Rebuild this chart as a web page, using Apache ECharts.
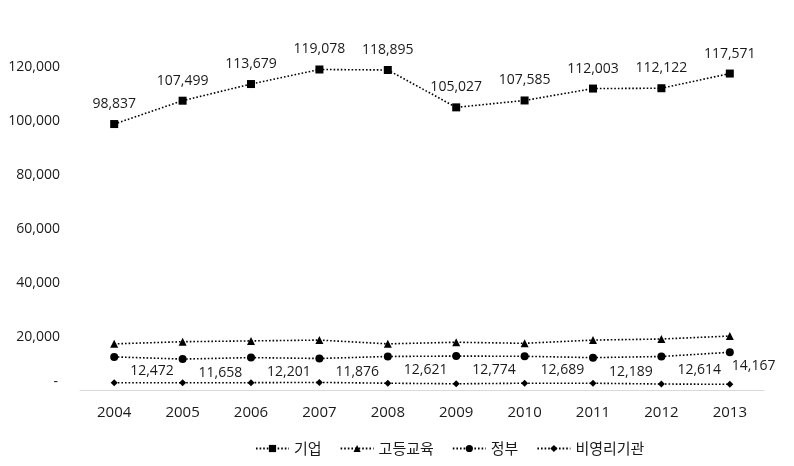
<!DOCTYPE html>
<html>
<head>
<meta charset="utf-8">
<script src="https://cdn.jsdelivr.net/npm/echarts@6/dist/echarts.min.js"></script>
<style>
html,body{margin:0;padding:0;background:#fff;}
#chart{width:794px;height:466px;}
</style>
</head>
<body>
<div id="chart"></div>
<script>
const years = ['2004','2005','2006','2007','2008','2009','2010','2011','2012','2013'];
const seriesNames = ['기업','고등교육','정부','비영리기관'];
const business = [98837,107499,113679,119078,118895,105027,107585,112003,112122,117571];
const higherEdu = [17300,18100,18400,18700,17300,17900,17500,18700,19100,20200];
const government = [12472,11658,12201,11876,12621,12774,12689,12189,12614,14167];
const nonProfit = [2900,2900,2900,3000,2700,2500,2700,2700,2400,2300];
const yTicks = [0,20000,40000,60000,80000,100000,120000];

const fmt = v => v.toLocaleString('en-US');
const baseFont = '"Open Sans", "Noto Sans", sans-serif';
const textColor = '#1a1a1a';
const lineStyle = {color:'#000', width:1.6, type:[1.6,2]};

const chart = echarts.init(document.getElementById('chart'), null, {renderer:'canvas'});
chart.setOption({
  animation:false,
  backgroundColor:'#fff',
  grid:{left:80,right:30,top:67,bottom:75.5,containLabel:false},
  legend:{
    data:seriesNames,
    bottom:5,
    left:250,
    itemWidth:33,
    itemHeight:9,
    itemGap:18,
    textStyle:{fontFamily:'"Noto Sans CJK KR", sans-serif',fontSize:15,color:textColor}
  },
  xAxis:{
    type:'category',
    data:years,
    boundaryGap:true,
    axisLine:{lineStyle:{color:'#d9d9d9',width:1}},
    axisTick:{show:false},
    axisLabel:{margin:15,fontFamily:baseFont,fontSize:15,color:textColor}
  },
  yAxis:{
    type:'value',
    min:yTicks[0],max:yTicks[yTicks.length-1],interval:yTicks[1]-yTicks[0],
    axisLine:{show:false},
    axisTick:{show:false},
    splitLine:{show:false},
    axisLabel:{
      margin:20,
      fontFamily:baseFont,fontSize:14,color:textColor,
      formatter:v=> v===0 ? '{z|-}' : fmt(v),
      rich:{z:{fontFamily:baseFont,fontSize:14,color:textColor,padding:[0,2,16,0]}}
    }
  },
  series:[
    {
      name:seriesNames[0],type:'line',data:business,
      symbol:'rect',symbolSize:8,
      lineStyle:lineStyle,itemStyle:{color:'#000'},
      label:{show:true,position:'top',distance:9,formatter:p=>fmt(p.value),fontFamily:baseFont,fontSize:14,color:textColor}
    },
    {
      name:seriesNames[1],type:'line',data:higherEdu,
      symbol:'triangle',symbolSize:8,
      lineStyle:lineStyle,itemStyle:{color:'#000'}
    },
    {
      name:seriesNames[2],type:'line',
      data:government.map((v,i)=>({value:v,label:{offset: i===government.length-1?[-10,14]:[4,14]}})),
      symbol:'circle',symbolSize:8,
      lineStyle:lineStyle,itemStyle:{color:'#000'},
      label:{show:true,position:'right',distance:8,formatter:p=>fmt(p.value),fontFamily:baseFont,fontSize:14,color:textColor}
    },
    {
      name:seriesNames[3],type:'line',data:nonProfit,
      symbol:'diamond',symbolSize:[7,7],
      lineStyle:lineStyle,itemStyle:{color:'#000'}
    }
  ]
});
</script>
</body>
</html>
